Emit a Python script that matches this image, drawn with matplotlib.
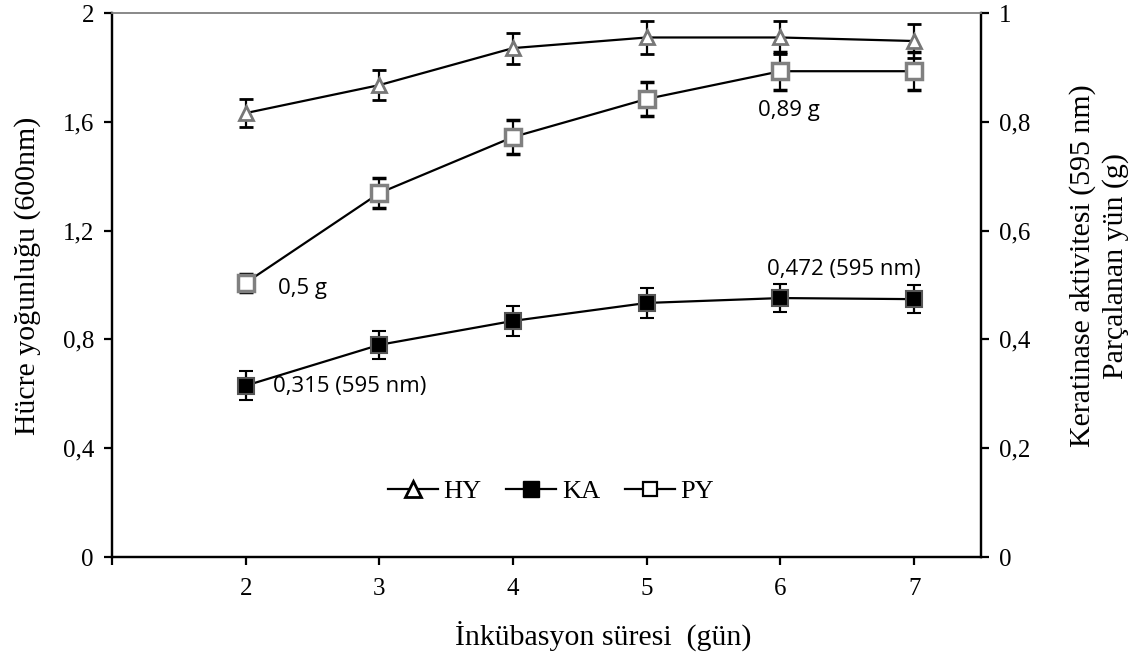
import matplotlib
matplotlib.use("Agg")
import matplotlib.pyplot as plt
from matplotlib.lines import Line2D

days = [2, 3, 4, 5, 6, 7]
hy = [1.632, 1.735, 1.871, 1.91, 1.91, 1.897]
hy_err = [0.05, 0.055, 0.057, 0.06, 0.06, 0.064]
ka = [0.315, 0.39, 0.434, 0.467, 0.476, 0.474]
ka_err = [0.027, 0.026, 0.027, 0.027, 0.026, 0.026]
py = [0.504, 0.669, 0.772, 0.842, 0.893, 0.893]
py_err = [0.017, 0.027, 0.032, 0.032, 0.035, 0.035]

xticks = [1, 2, 3, 4, 5, 6, 7]
xticklabels = ["", "2", "3", "4", "5", "6", "7"]
left_ticks = [0, 0.4, 0.8, 1.2, 1.6, 2.0]
left_labels = ["0", "0,4", "0,8", "1,2", "1,6", "2"]
right_ticks = [0, 0.2, 0.4, 0.6, 0.8, 1.0]
right_labels = ["0", "0,2", "0,4", "0,6", "0,8", "1"]

serif = "Liberation Serif"
sans = "Open Sans"
W, H = 1134, 659

fig = plt.figure(figsize=(11.34, 6.59), dpi=100)
ax = fig.add_axes([112 / W, 1 - 557 / H, (981 - 112) / W, (557 - 13) / H])
ax2 = ax.twinx()

ax.errorbar(days, hy, yerr=hy_err, color="black", lw=1.6, marker="^", ms=10,
            mfc="white", mec="#777777", mew=2, capsize=5, elinewidth=1.6,
            capthick=1.6, zorder=3)
ax2.errorbar(days, ka, yerr=ka_err, color="black", lw=1.6, marker="s", ms=11.5,
             mfc="black", mec="#555555", mew=1.5, capsize=5, elinewidth=1.6,
             capthick=1.6, zorder=3)
ax2.errorbar(days, py, yerr=py_err, color="black", lw=1.6, marker="s", ms=11,
             mfc="white", mec="#808080", mew=2.5, capsize=5, elinewidth=1.6,
             capthick=1.6, zorder=3)

ax.set_xlim(1, 7.5)
ax.set_ylim(0, 2)
ax2.set_ylim(0, 1)

ax.set_xticks(xticks)
ax.set_xticklabels(xticklabels, fontfamily=serif, fontsize=18)
ax.set_yticks(left_ticks)
ax.set_yticklabels(left_labels, fontfamily=serif, fontsize=18)
ax2.set_yticks(right_ticks)
ax2.set_yticklabels(right_labels, fontfamily=serif, fontsize=18)

for a in (ax, ax2):
    a.tick_params(axis="both", direction="out", length=6, width=1.6, pad=7)
    for s in a.spines.values():
        s.set_linewidth(1.6)
    a.spines["top"].set_color("#888888")
    a.spines["top"].set_linewidth(1.2)
ax.tick_params(axis="x", pad=9)

fig.text(603 / W, 1 - 636 / H, "İnkübasyon süresi  (gün)", fontfamily=serif,
         fontsize=21.5, ha="center", va="center")
fig.text(28 / W, 1 - 276 / H, "Hücre yoğunluğu (600nm)", fontfamily=serif,
         fontsize=21.5, ha="center", va="center", rotation=90)
fig.text(1099 / W, 1 - 266 / H, "Keratinase aktivitesi (595 nm)\nParçalanan yün (g)",
         fontfamily=serif, fontsize=21.5, ha="center", va="center", rotation=90,
         multialignment="center", linespacing=1.3)

ax2.text(2.24, 0.494, "0,5 g", fontfamily=sans, fontsize=16, va="center", ha="left")
ax2.text(5.83, 0.821, "0,89 g", fontfamily=sans, fontsize=16, va="center", ha="left")
ax2.text(2.205, 0.313, "0,315 (595 nm)", fontfamily=sans, fontsize=16, va="center", ha="left")
ax2.text(5.90, 0.528, "0,472 (595 nm)", fontfamily=sans, fontsize=16, va="center", ha="left")

handles = [
    Line2D([], [], color="black", lw=1.6, marker="^", ms=11, mfc="white", mec="black", mew=2),
    Line2D([], [], color="black", lw=1.6, marker="s", ms=12, mfc="black", mec="black"),
    Line2D([], [], color="black", lw=1.6, marker="s", ms=10, mfc="white", mec="black", mew=1.6),
]
leg = ax.legend(handles, ["HY", "KA", "PY"], loc="center", bbox_to_anchor=(0.505, 0.121),
                ncol=3, frameon=False, handlelength=1.9, handletextpad=0.2,
                columnspacing=0.95, borderpad=0.2, prop={"family": serif, "size": 19})

fig.savefig("out.png", dpi=100)
